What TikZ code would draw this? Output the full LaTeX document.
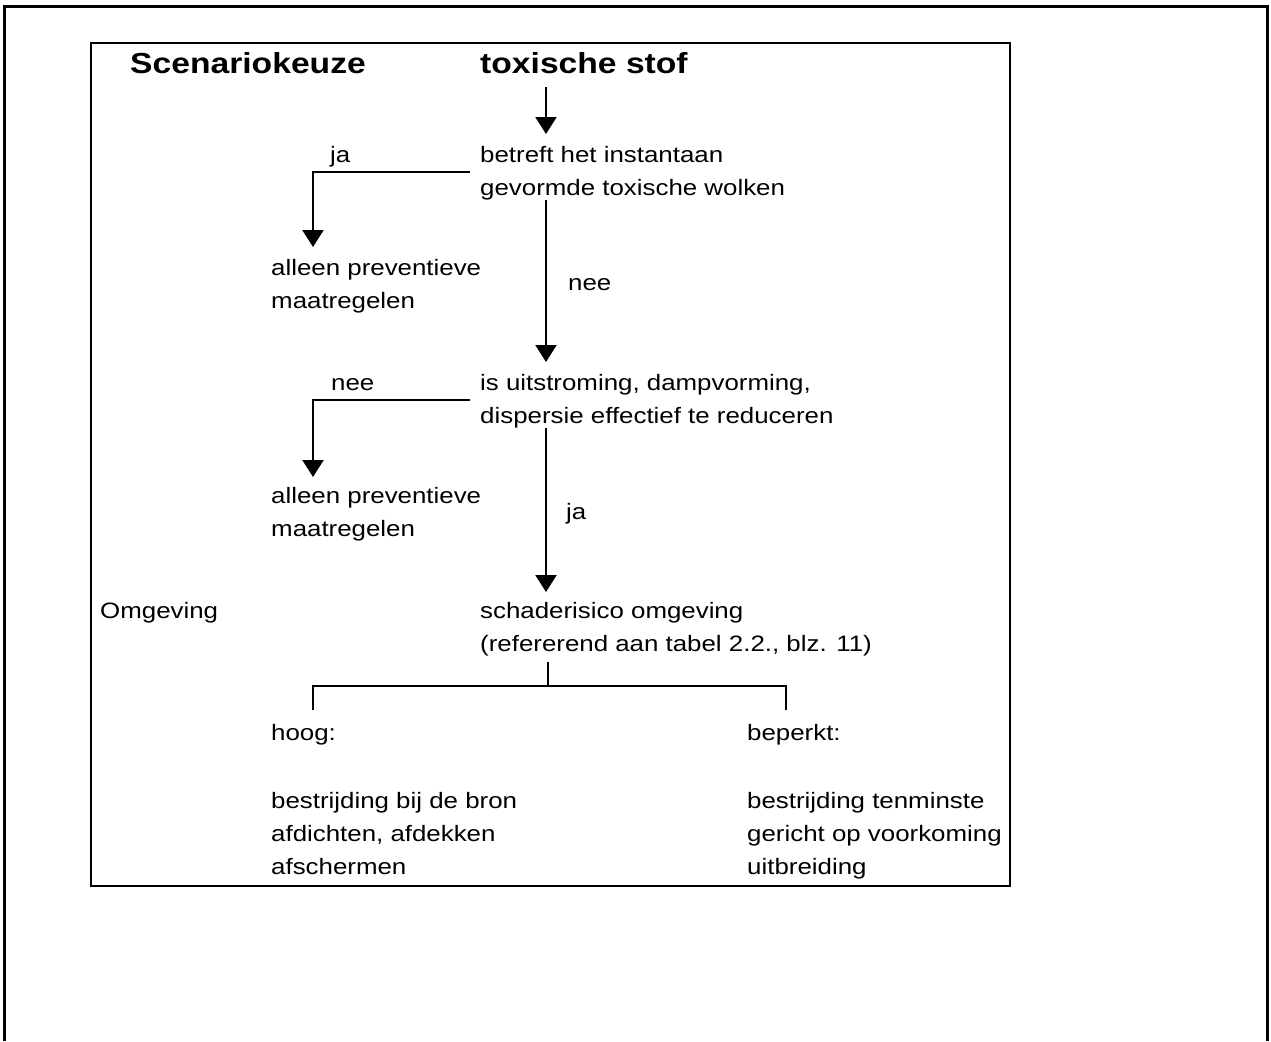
\documentclass[tikz,border=0pt]{standalone}
\usepackage{fontspec}
\setmainfont{Liberation Sans}[FakeStretch=1.16]
\usetikzlibrary{arrows.meta}
\begin{document}
\begin{tikzpicture}[x=1pt,y=-1pt,
  txt/.style={inner sep=0pt,anchor=base west,align=left,
    font=\fontsize{22.3}{33}\selectfont},
  block/.style={txt,anchor=north west},
  head/.style={inner sep=0pt,anchor=base west,
    font=\fontsize{29}{35}\selectfont\bfseries},
  arr/.style={line width=2.2pt,-{Triangle[width=21pt,length=17pt]}},
  ln/.style={line width=2.2pt}]
\useasboundingbox (0,0) rectangle (1271,1041);
% outer frame, open at the bottom
\draw[line width=3pt] (4,1041) -- (4,7) -- (1267,7) -- (1267,1041);
% inner frame
\draw[line width=2.2pt] (91,43) rectangle (1010,886);

\coordinate (spine) at (546,0);

\node[head] (title) at (130,74) {Scenariokeuze};
\node[head] (stof) at (480,74) {toxische stof};

\node[block] (q1) at (480,146) {betreft het instantaan\\gevormde toxische wolken};
\node[txt] (ja1) at (330,162) {ja};
\node[block] (prev1) at (271,259) {alleen preventieve\\maatregelen};
\node[txt] (nee1) at (568,290) {nee};

\node[block] (q2) at (480,374) {is uitstroming, dampvorming,\\dispersie effectief te reduceren};
\node[txt] (nee2) at (331,390) {nee};
\node[block] (prev2) at (271,487) {alleen preventieve\\maatregelen};
\node[txt] (ja2) at (566,519) {ja};

\node[txt] (omg) at (100,618) {Omgeving};
\node[block] (risk) at (480,602) {schaderisico omgeving\\(refererend aan tabel 2.2., blz. 11)};

\node[txt] (hoog) at (271,740) {hoog:};
\node[txt] (beperkt) at (747,740) {beperkt:};
\node[block] (hoogact) at (271,792) {bestrijding bij de bron\\afdichten, afdekken\\afschermen};
\node[block] (beperktact) at (747,792) {bestrijding tenminste\\gericht op voorkoming\\uitbreiding};

% main flow
\draw[arr] ([yshift=-13pt]stof.base -| spine) -- ([yshift=12pt]q1.north -| spine);
\draw[arr] (q1.south -| spine) -- ([yshift=12pt]q2.north -| spine);
\draw[arr] (q2.south -| spine) -- ([yshift=10pt]risk.north -| spine);

% side branches
\draw[arr] ([shift={(-10pt,-26pt)}]q1.north west) -| ([shift={(42pt,12pt)}]prev1.north west);
\draw[arr] ([shift={(-10pt,-26pt)}]q2.north west) -| ([shift={(42pt,10pt)}]prev2.north west);

% split into the two outcomes
\coordinate (fork) at ([yshift=-30pt]risk.south -| 548,0);
\draw[ln] ([yshift=-6pt]risk.south -| fork) -- (fork);
\draw[ln] ([yshift=30pt]hoog.base west -| 313,0) |- (fork)
  -| ([yshift=30pt]beperkt.base west -| 786,0);
\end{tikzpicture}
\end{document}
